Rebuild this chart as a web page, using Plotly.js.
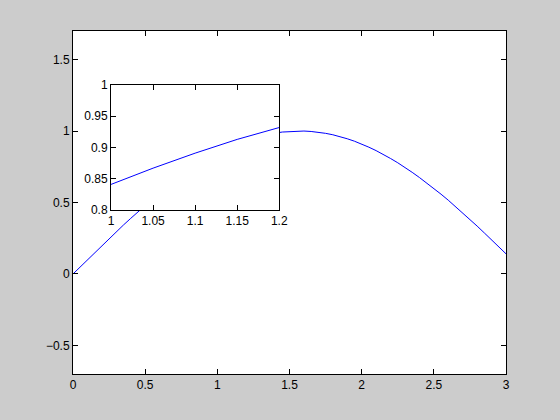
<!DOCTYPE html>
<html>
<head>
<meta charset="utf-8">
<script src="https://cdn.plot.ly/plotly-3.0.1.min.js"></script>
<style>html,body{margin:0;padding:0;background:#cccccc;}</style>
</head>
<body>
<div id="chart" style="width:560px;height:420px;"></div>
<script>
// x samples and read-off curve values
var xValues = [0,0.05,0.1,0.15,0.2,0.25,0.3,0.35,0.4,0.45,0.5,0.55,0.6,0.65,0.7,0.75,0.8,0.85,0.9,0.95,
  1.0,1.05,1.1,1.15,1.2,1.25,1.3,1.35,1.4,1.45,1.5,1.55,1.6,1.65,1.7,1.75,1.8,1.85,1.9,1.95,
  2.0,2.05,2.1,2.15,2.2,2.25,2.3,2.35,2.4,2.45,2.5,2.55,2.6,2.65,2.7,2.75,2.8,2.85,2.9,2.95,3.0];
var yValues = [0,0.050,0.100,0.149,0.199,0.247,0.296,0.343,0.389,0.435,0.479,0.523,0.565,0.605,0.644,0.682,0.717,0.751,0.783,0.813,
  0.841,0.867,0.891,0.913,0.932,0.949,0.964,0.976,0.985,0.993,0.997,1.000,1.000,0.997,0.992,0.984,0.974,0.961,0.946,0.929,
  0.909,0.887,0.863,0.837,0.808,0.778,0.746,0.711,0.675,0.638,0.598,0.558,0.516,0.472,0.427,0.382,0.335,0.287,0.239,0.190,0.141];
var mainXTicks = [0,0.5,1,1.5,2,2.5,3];
var mainYTicks = [-0.5,0,0.5,1,1.5];
var insetXTicks = [1,1.05,1.1,1.15,1.2];
var insetYTicks = [0.8,0.85,0.9,0.95,1];

var lineStyle = {color:'#0000ff', width:1};
var traces = [
  {x:xValues, y:yValues, type:'scatter', mode:'lines', line:lineStyle, xaxis:'x', yaxis:'y', hoverinfo:'skip'},
  {x:xValues, y:yValues, type:'scatter', mode:'lines', line:lineStyle, xaxis:'x2', yaxis:'y2', hoverinfo:'skip'}
];
var axBase = {
  showgrid:false, zeroline:false, showline:true, linecolor:'#000', linewidth:1,
  mirror:'ticks', ticks:'inside', ticklen:5, tickcolor:'#000', tickwidth:1,
  tickfont:{family:'Liberation Sans, Arial, sans-serif', size:12, color:'#000'},
  tickmode:'array'
};
function ax(extra){ return Object.assign({}, axBase, extra); }
var layout = {
  width:560, height:420,
  paper_bgcolor:'#cccccc', plot_bgcolor:'#ffffff',
  margin:{l:73, r:54, t:31, b:46},
  showlegend:false,
  xaxis: ax({domain:[0,1], range:[0,3], tickvals:mainXTicks, anchor:'y'}),
  yaxis: ax({domain:[0,1], range:[-0.7,1.7], tickvals:mainYTicks, anchor:'x'}),
  xaxis2: ax({domain:[0.0878,0.4764], range:[1,1.2], tickvals:insetXTicks, anchor:'y2'}),
  yaxis2: ax({domain:[0.478,0.8426], range:[0.8,1], tickvals:insetYTicks, anchor:'x2'})
};
Plotly.newPlot('chart', traces, layout, {displayModeBar:false, staticPlot:true});
</script>
</body>
</html>
